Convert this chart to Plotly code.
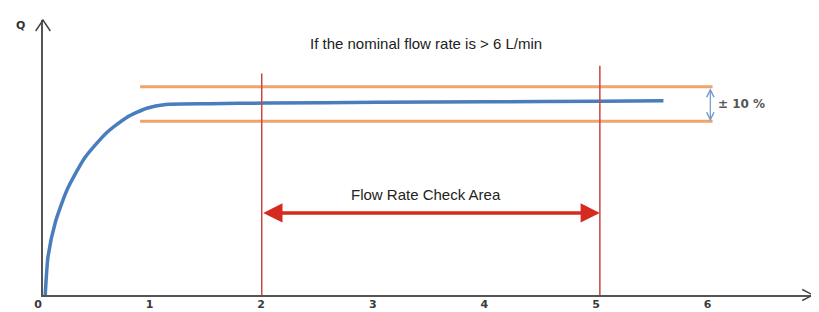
import plotly.graph_objects as go

# ---- data ----
curve_x = [0.02, 0.045, 0.11, 0.215, 0.376, 0.57, 0.75, 0.93, 1.1, 1.5, 2.0, 3.0, 4.0, 5.0, 5.56]
curve_y = [0.0, 0.20, 0.38, 0.55, 0.72, 0.85, 0.93, 0.978, 0.998, 1.002, 1.005, 1.009, 1.012, 1.015, 1.017]

tol_x = [0.87, 6.0]
tol_upper = [1.09, 1.09]
tol_lower = [0.91, 0.91]

check_start = 1.96
check_end = 4.99
check_line_top = [1.16, 1.20]
check_arrow_y = 0.43

tick_vals = [0, 1, 2, 3, 4, 5, 6]
tick_text = ["0", "1", "2", "3", "4", "5", "6"]

x_max = 6.9
y_max = 1.44

title_text = "If the nominal flow rate is > 6 L/min"
area_text = "Flow Rate Check Area"
tol_text = "± 10 %"

fig = go.Figure()

# tolerance band lines (orange)
fig.add_trace(go.Scatter(x=tol_x, y=tol_upper, mode="lines",
                         line=dict(color="#EDA56E", width=3), hoverinfo="skip"))
fig.add_trace(go.Scatter(x=tol_x, y=tol_lower, mode="lines",
                         line=dict(color="#EDA56E", width=3), hoverinfo="skip"))

# flow curve (blue)
fig.add_trace(go.Scatter(x=curve_x, y=curve_y, mode="lines",
                         line=dict(color="#4A7DBC", width=3.5, shape="spline", smoothing=0.6),
                         hoverinfo="skip"))

shapes = []
# red vertical check lines
for xv, top in zip([check_start, check_end], check_line_top):
    shapes.append(dict(type="line", xref="x", yref="y", x0=xv, x1=xv, y0=0, y1=top,
                       line=dict(color="#C9453F", width=1.5), layer="above"))

# open chevron axis arrowheads (paper coordinates so they are not clipped)
shapes.append(dict(type="path", xref="paper", yref="paper",
                   path="M 0.986,0.02 L 1,0 L 0.986,-0.02",
                   line=dict(color="#444444", width=1.5)))
shapes.append(dict(type="path", xref="paper", yref="paper",
                   path="M -0.0095,0.96 L 0,1 L 0.0095,0.96",
                   line=dict(color="#444444", width=1.5)))

annotations = [
    # title
    dict(text=title_text, x=3.43, y=(295 - 43) / 191,
         xref="x", yref="y", showarrow=False,
         font=dict(family="Liberation Sans, Arial", size=15, color="#222222")),
    # check area label
    dict(text=area_text, x=3.43, y=check_arrow_y + 0.095,
         xref="x", yref="y", showarrow=False,
         font=dict(family="Liberation Sans, Arial", size=15, color="#222222")),
    # red double arrow
    dict(x=check_end, y=check_arrow_y, ax=check_start, ay=check_arrow_y,
         xref="x", yref="y", axref="x", ayref="y", text="", showarrow=True,
         arrowhead=2, startarrowhead=2, arrowside="end+start", arrowsize=1.1,
         startarrowsize=1.1, arrowwidth=3.5, arrowcolor="#D42A20", standoff=0, startstandoff=0),
    # tolerance double arrow
    dict(x=5.98, y=tol_lower[0], ax=5.98, ay=tol_upper[0],
         xref="x", yref="y", axref="x", ayref="y", text="", showarrow=True,
         arrowhead=5, startarrowhead=5, arrowside="end+start", arrowsize=1.2,
         startarrowsize=1.2, arrowwidth=1.2, arrowcolor="#7199CC"),
    dict(text=tol_text, x=6.03, y=1.0, xref="x", yref="y", xanchor="left", showarrow=False,
         font=dict(family="DejaVu Sans", size=12, color="#555555", weight="bold")),
    # axis label (paper coordinates, outside the plotting area)
    dict(text="Q", x=-0.038, y=1.011, xref="paper", yref="paper", showarrow=False,
         font=dict(family="DejaVu Sans", size=11, color="#333333", weight="bold")),
]

# page body adds an 8px offset, so margins are reduced on the left/top accordingly
fig.update_layout(
    width=819, height=312,
    margin=dict(l=35, r=14, t=12, b=25, autoexpand=False),
    paper_bgcolor="white", plot_bgcolor="white",
    showlegend=False,
    shapes=shapes, annotations=annotations,
    xaxis=dict(range=[0, x_max], showgrid=False, zeroline=False, showline=True,
               automargin=False,
               linecolor="#555555", linewidth=1.5, tickvals=tick_vals, ticktext=tick_text,
               ticks="", ticklabelshift=-5, ticklabelstandoff=-2,
               tickfont=dict(family="DejaVu Sans", size=11, color="#3a3a3a", weight="bold")),
    yaxis=dict(range=[0, y_max], showgrid=False, zeroline=False, showline=True,
               automargin=False,
               linecolor="#555555", linewidth=1.5, showticklabels=False, ticks=""),
)

fig.write_html("out.html")
